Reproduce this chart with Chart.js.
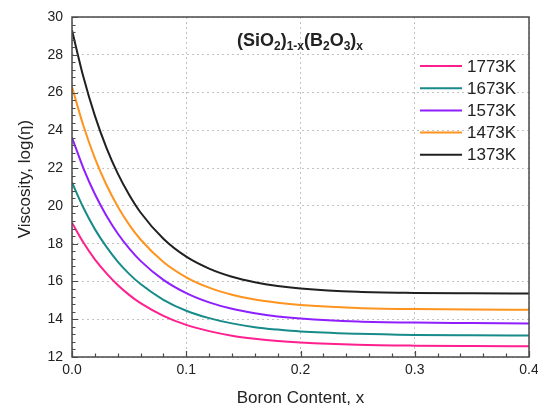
<!DOCTYPE html>
<html><head><meta charset="utf-8">
<script src="https://cdn.jsdelivr.net/npm/chart.js@4/dist/chart.umd.min.js"></script>
<style>html,body{margin:0;padding:0;background:#fff}#wrap{width:538px;height:407px}</style>
</head><body><div id="wrap"><canvas id="c" width="538" height="407"></canvas></div>
<script>
// ---- data ----
const xValues = [0, 0.01, 0.02, 0.03, 0.04, 0.05, 0.06, 0.08, 0.10, 0.12, 0.14, 0.16, 0.18, 0.20, 0.25, 0.30, 0.35, 0.40];
const k1773 = [19.11, 18.06, 17.17, 16.44, 15.81, 15.29, 14.85, 14.18, 13.70, 13.37, 13.13, 12.97, 12.85, 12.77, 12.65, 12.60, 12.58, 12.57];
const k1673 = [21.24, 19.90, 18.77, 17.84, 17.05, 16.40, 15.86, 15.03, 14.45, 14.06, 13.78, 13.58, 13.45, 13.35, 13.23, 13.17, 13.15, 13.14];
const k1573 = [23.62, 21.99, 20.63, 19.49, 18.54, 17.75, 17.09, 16.08, 15.38, 14.89, 14.55, 14.32, 14.15, 14.04, 13.88, 13.82, 13.80, 13.78];
const k1473 = [26.30, 24.24, 22.53, 21.13, 19.97, 19.01, 18.22, 17.03, 16.22, 15.67, 15.30, 15.04, 14.87, 14.75, 14.60, 14.54, 14.51, 14.50];
const k1373 = [29.30, 26.82, 24.78, 23.10, 21.72, 20.59, 19.65, 18.26, 17.31, 16.68, 16.25, 15.96, 15.76, 15.63, 15.45, 15.39, 15.37, 15.36];
const seriesLabels = ['1773K', '1673K', '1573K', '1473K', '1373K'];
const seriesValues = [k1773, k1673, k1573, k1473, k1373];
const xTicks = [0, 0.1, 0.2, 0.3, 0.4];
const yTicks = [12, 14, 16, 18, 20, 22, 24, 26, 28, 30];
const xTitle = 'Boron Content, x';
const yTitle = 'Viscosity, log(\u03B7)';

// ---- styles ----
const seriesColors = ['#ff1f8e', '#178a8a', '#8f1fff', '#ff931f', '#202020'];
const FONT = '"Liberation Sans", Arial, sans-serif';
const TXT = '#222';

const datasets = seriesLabels.map((lab, i) => ({
  label: lab,
  data: xValues.map((x, j) => ({x: x, y: seriesValues[i][j]})),
  borderColor: seriesColors[i],
  borderWidth: 2,
  pointRadius: 0,
  fill: false,
  cubicInterpolationMode: 'monotone'
}));

const decor = {
  id: 'decor',
  afterDraw(chart) {
    const {ctx, chartArea: a, scales} = chart;
    const xs = scales.x, ys = scales.y;
    ctx.save();
    // frame
    ctx.strokeStyle = '#4a4a4a';
    ctx.lineWidth = 1.5;
    ctx.strokeRect(a.left, a.top, a.right - a.left, a.bottom - a.top);
    // inward ticks
    ctx.lineWidth = 1.2;
    ctx.beginPath();
    for (let i = 0; i <= 20; i++) {
      const px = Math.round(xs.getPixelForValue(i * 0.02)) + 0.5;
      const len = (i % 5 === 0) ? 6 : 3.5;
      ctx.moveTo(px, a.bottom);
      ctx.lineTo(px, a.bottom - len);
    }
    for (let i = 0; i <= 45; i++) {
      const py = Math.round(ys.getPixelForValue(12 + i * 0.4)) + 0.5;
      const len = (i % 5 === 0) ? 6 : 3.5;
      ctx.moveTo(a.left, py);
      ctx.lineTo(a.left + len, py);
    }
    ctx.stroke();

    // legend
    ctx.font = '17px ' + FONT;
    ctx.textBaseline = 'middle';
    ctx.textAlign = 'left';
    seriesLabels.forEach((lab, i) => {
      const yy = 66 + i * 22.2;
      ctx.strokeStyle = seriesColors[i];
      ctx.lineWidth = 2;
      ctx.beginPath();
      ctx.moveTo(420, yy);
      ctx.lineTo(462, yy);
      ctx.stroke();
      ctx.fillStyle = TXT;
      ctx.fillText(lab, 467, yy + 1);
    });

    // title with subscripts
    const parts = [['(SiO', 0], ['2', 1], [')', 0], ['1-x', 1], ['(B', 0], ['2', 1], ['O', 0], ['3', 1], [')', 0], ['x', 1]];
    const mainF = 'bold 18px ' + FONT, subF = 'bold 12px ' + FONT;
    let w = 0;
    parts.forEach(p => { ctx.font = p[1] ? subF : mainF; w += ctx.measureText(p[0]).width; });
    let cx = 300 - w / 2;
    const base = 46;
    ctx.fillStyle = TXT;
    ctx.textBaseline = 'alphabetic';
    parts.forEach(p => {
      ctx.font = p[1] ? subF : mainF;
      ctx.fillText(p[0], cx, p[1] ? base + 4 : base);
      cx += ctx.measureText(p[0]).width;
    });

    // y axis title
    ctx.save();
    ctx.translate(25, 179);
    ctx.rotate(-Math.PI / 2);
    ctx.font = '17px ' + FONT;
    ctx.textAlign = 'center';
    ctx.textBaseline = 'middle';
    ctx.fillText(yTitle, 0, 0);
    ctx.restore();
    ctx.restore();
  }
};

new Chart(document.getElementById('c'), {
  type: 'line',
  data: {datasets},
  plugins: [decor],
  options: {
    responsive: false,
    animation: false,
    devicePixelRatio: 1,
    layout: {padding: {left: 0, right: 9, top: 17, bottom: 0}},
    plugins: {legend: {display: false}, tooltip: {enabled: false}, title: {display: false}},
    scales: {
      x: {
        type: 'linear', min: 0, max: 0.4,
        afterBuildTicks: s => { s.ticks = xTicks.map(v => ({value: v})); },
        afterFit: s => { s.height = 50; s.paddingLeft = 0; s.paddingRight = 0; },
        ticks: {callback: v => Number(v).toFixed(1), color: TXT, font: {family: FONT, size: 14}, padding: 5, maxRotation: 0, autoSkip: false},
        grid: {drawTicks: false, color: '#c2c2c2', lineWidth: 1},
        border: {display: false, dash: [2, 3]},
        title: {display: true, text: xTitle, color: TXT, font: {family: FONT, size: 17, lineHeight: 1}, padding: 0}
      },
      y: {
        type: 'linear', min: 12, max: 30,
        afterBuildTicks: s => { s.ticks = yTicks.map(v => ({value: v})); },
        afterFit: s => { s.width = 72; s.paddingTop = 0; s.paddingBottom = 0; },
        ticks: {color: TXT, font: {family: FONT, size: 14}, padding: 9, autoSkip: false},
        grid: {drawTicks: false, color: '#c2c2c2', lineWidth: 1},
        border: {display: false, dash: [2, 3]},
        title: {display: false}
      }
    }
  }
});
</script></body></html>
